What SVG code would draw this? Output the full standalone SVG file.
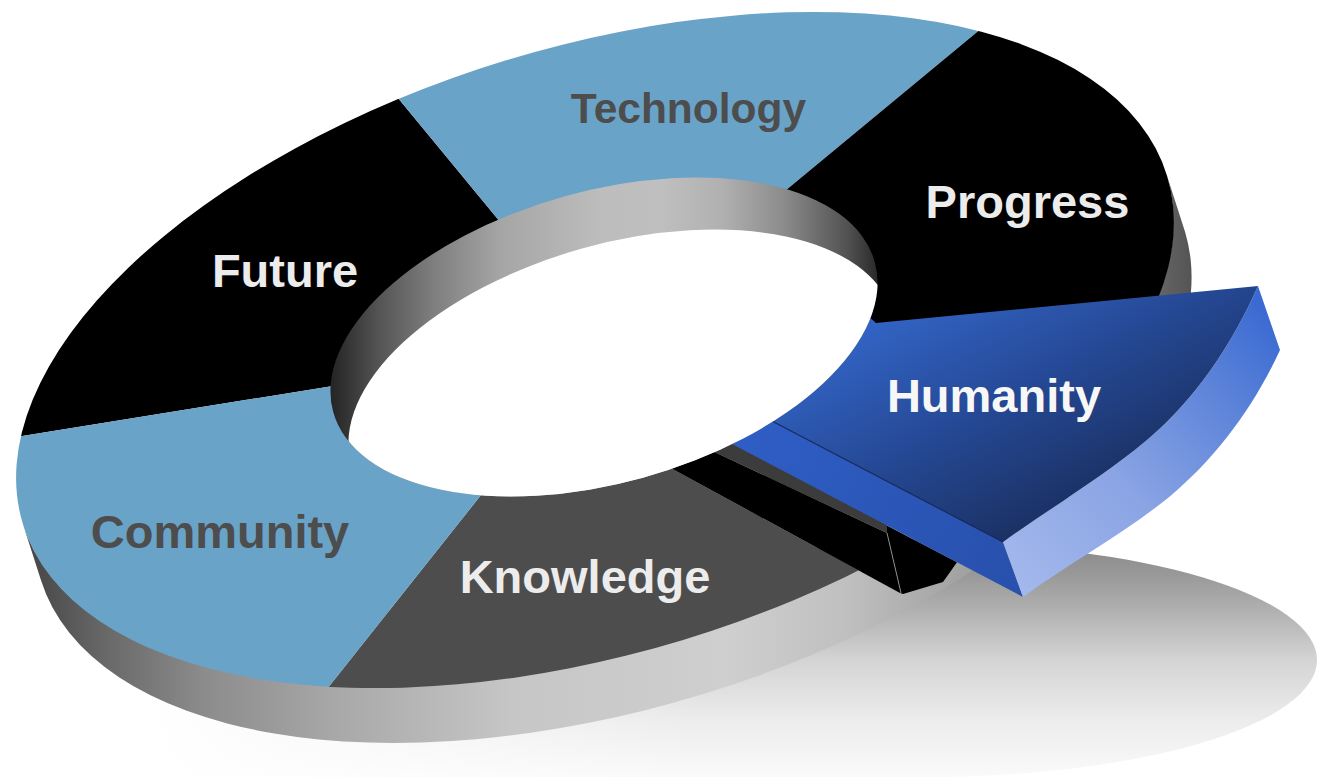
<svg xmlns="http://www.w3.org/2000/svg" width="1319" height="777" viewBox="0 0 1319 777">
<defs>
<style>
.lbl{font-family:"Liberation Sans",Arial,sans-serif;font-weight:bold;font-size:47px;text-anchor:middle}
.light{fill:#ececec}
.dark{fill:#4d4d4d}
.seg{clip-path:url(#outerClip)}
</style>
<clipPath id="outerClip"><ellipse cx="595" cy="350" rx="598" ry="303" transform="rotate(-16.9 595 350)"/></clipPath>
<clipPath id="innerClip"><ellipse cx="604" cy="337" rx="281" ry="146" transform="rotate(-15.5 604 337)"/></clipPath>
<linearGradient id="shadowGrad" gradientUnits="userSpaceOnUse" x1="0" y1="543" x2="0" y2="777">
<stop offset="0" stop-color="#888888"/><stop offset="0.137" stop-color="#999999"/><stop offset="0.286" stop-color="#b0b0b0"/><stop offset="0.5" stop-color="#d4d4d4"/><stop offset="0.756" stop-color="#ececec"/><stop offset="1" stop-color="#fafafa"/>
</linearGradient>
<linearGradient id="fadeGrad" gradientUnits="userSpaceOnUse" x1="150" y1="0" x2="700" y2="0">
<stop offset="0" stop-color="#ffffff" stop-opacity="1"/><stop offset="1" stop-color="#ffffff" stop-opacity="0"/>
</linearGradient>
<linearGradient id="sideGrad" gradientUnits="userSpaceOnUse" x1="15" y1="0" x2="1200" y2="0">
<stop offset="0" stop-color="#404040"/><stop offset="0.08" stop-color="#6a6a6a"/><stop offset="0.16" stop-color="#8c8c8c"/><stop offset="0.27" stop-color="#a8a8a8"/><stop offset="0.42" stop-color="#c6c6c6"/><stop offset="0.6" stop-color="#cfcfcf"/><stop offset="0.7" stop-color="#c0c0c0"/><stop offset="0.78" stop-color="#a8a8a8"/><stop offset="0.93" stop-color="#7a7a7a"/><stop offset="1" stop-color="#505050"/>
</linearGradient>
<linearGradient id="wallGrad" gradientUnits="userSpaceOnUse" x1="333" y1="0" x2="880" y2="0">
<stop offset="0" stop-color="#262626"/><stop offset="0.086" stop-color="#555555"/><stop offset="0.18" stop-color="#7d7d7d"/><stop offset="0.305" stop-color="#a5a5a5"/><stop offset="0.49" stop-color="#bdbdbd"/><stop offset="0.6" stop-color="#bfbfbf"/><stop offset="0.713" stop-color="#b0b0b0"/><stop offset="0.828" stop-color="#8a8a8a"/><stop offset="0.943" stop-color="#505050"/><stop offset="1" stop-color="#262626"/>
</linearGradient>
<linearGradient id="humTop" gradientUnits="userSpaceOnUse" x1="880" y1="300" x2="1010" y2="545">
<stop offset="0" stop-color="#3467ca"/><stop offset="0.5" stop-color="#264a98"/><stop offset="1" stop-color="#1a3062"/>
</linearGradient>
<linearGradient id="humSide" gradientUnits="userSpaceOnUse" x1="1010" y1="580" x2="1275" y2="320">
<stop offset="0" stop-color="#a3b8ec"/><stop offset="0.4" stop-color="#8aa4e4"/><stop offset="0.75" stop-color="#5d84d9"/><stop offset="1" stop-color="#3a6ad2"/>
</linearGradient>
<linearGradient id="humStrip" gradientUnits="userSpaceOnUse" x1="730" y1="440" x2="1020" y2="590">
<stop offset="0" stop-color="#2f5ec6"/><stop offset="1" stop-color="#2850ac"/>
</linearGradient>
</defs>
<rect x="0" y="0" width="1319" height="777" fill="#ffffff"/>
<g id="shadow">
<ellipse cx="925" cy="660" rx="392" ry="117" fill="url(#shadowGrad)"/>
<polygon points="150,650 700,560 925,560 925,790 150,790" fill="url(#shadowGrad)"/>
<rect x="0" y="540" width="700" height="240" fill="url(#fadeGrad)"/>
</g>
<g id="ring-side">
<path d="M 1167.17 176.16 L 1185.17 232.16 A 598 303 -16.9 0 1 40.83 579.84 L 22.83 523.84 A 598 303 -16.9 0 0 1167.17 176.16 Z" fill="url(#sideGrad)"/>
</g>
<g id="node-future">
<polygon class="seg" fill="#000000" points="333,386 -445,511 -300,-300 243,-90 501,223 604,337"/>
<text class="lbl light" x="285" y="287">Future</text>
</g>
<g id="node-technology">
<polygon class="seg" fill="#6aa3c8" points="501,223 243,-90 700,-300 1266,-207 791,186 604,337"/>
<text class="lbl dark" x="688.5" y="123" style="font-size:42.5px">Technology</text>
</g>
<g id="node-progress">
<polygon class="seg" fill="#000000" points="791,186 1266,-207 1700,-100 1833,243 876,335 604,337"/>
<text class="lbl light" x="1027.5" y="218">Progress</text>
</g>
<g id="node-knowledge">
<polygon class="seg" fill="#4d4d4d" points="667,466 1150,729 700,1100 104,970 481,495 604,337"/>
<text class="lbl light" x="585" y="593">Knowledge</text>
</g>
<g id="node-community">
<polygon class="seg" fill="#6aa3c8" points="481,495 104,970 -400,900 -445,511 333,386 604,337"/>
<text class="lbl dark" x="220" y="548">Community</text>
</g>
<g id="humanity-gap">
<polygon fill="#3c3c3c" points="680,405 887,520 887,533 680,436"/>
<polygon fill="#000000" points="660,426.6 887,532.9 887,525.6 957,562.3 943,582 903,594 900,593 660,462.2"/>
<line x1="887" y1="533" x2="901" y2="593" stroke="#cfcfcf" stroke-width="1" opacity="0.7"/>
</g>
<g id="node-humanity">
<polygon fill="url(#humStrip)" points="700,383.3 1003,542 1023,597 700,427.2"/>
<path fill="url(#humSide)" d="M 1258 286 C 1232.8 343.4 1195 399.7 1147 440 C 1102.4 477.5 1050.1 507.8 1003 542 L 1023 597 C 1070.1 562.8 1122.4 534.5 1168 498 C 1216 458.7 1254.8 405.4 1280 350 Z"/>
<path fill="url(#humTop)" d="M 876 323 L 1258 286 C 1232.8 343.4 1195 399.7 1147 440 C 1102.4 477.5 1050.1 507.8 1003 542 L 770 420 L 760 400 L 850 300 Z"/>
<line x1="770" y1="420" x2="1003" y2="542" stroke="#14285a" stroke-width="1.2"/>
<text class="lbl" x="994" y="412" fill="#f7f7f7">Humanity</text>
</g>
<g id="ring-hole" clip-path="url(#innerClip)">
<rect x="300" y="150" width="620" height="380" fill="url(#wallGrad)"/>
<ellipse cx="622" cy="389" rx="281" ry="146" transform="rotate(-15.5 622 389)" fill="#ffffff"/>
</g>
</svg>
